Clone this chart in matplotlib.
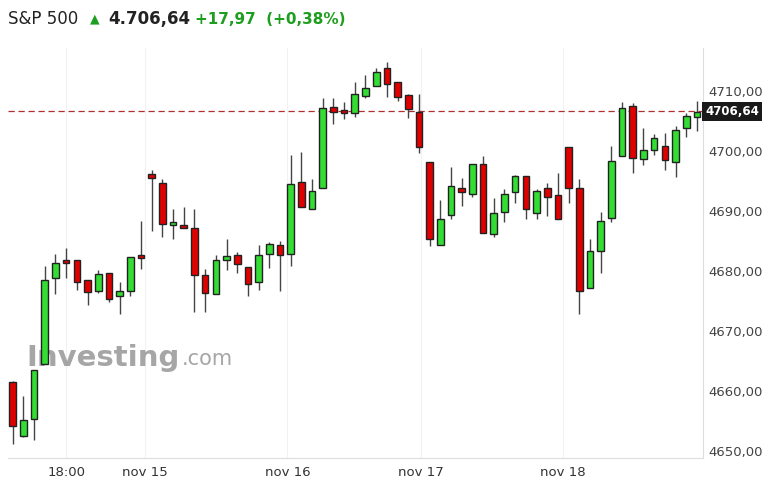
import matplotlib.pyplot as plt
import numpy as np

# OHLC candles
opens = [4661.4, 4652.5, 4655.3, 4664.5, 4678.8, 4681.8, 4681.8, 4678.5, 4676.7, 4679.7,
         4675.9, 4676.7, 4682.6, 4696.2, 4694.7, 4687.6, 4687.6, 4687.2, 4679.3, 4676.1,
         4681.9, 4682.6, 4680.7, 4678.2, 4682.9, 4684.3, 4682.9, 4694.9, 4690.3, 4693.8,
         4707.4, 4706.9, 4706.3, 4709.2, 4710.9, 4713.8, 4711.6, 4709.3, 4706.6, 4698.2,
         4684.3, 4689.3, 4693.6, 4692.8, 4697.9, 4686.2, 4689.9, 4693.2, 4695.9, 4689.6,
         4693.8, 4692.6, 4700.7, 4693.8, 4677.2, 4683.4, 4688.8, 4699.1, 4707.6, 4698.7,
         4700.2, 4700.9, 4698.2, 4703.8, 4705.7]
closes = [4654.2, 4655.2, 4663.5, 4678.5, 4681.4, 4681.3, 4678.2, 4676.5, 4679.5, 4675.3,
          4676.6, 4682.4, 4682.1, 4695.5, 4687.9, 4688.1, 4687.1, 4679.3, 4676.3, 4681.8,
          4682.4, 4681.1, 4677.9, 4682.6, 4684.5, 4682.6, 4694.5, 4690.7, 4693.4, 4707.2,
          4706.5, 4706.3, 4709.5, 4710.5, 4713.2, 4711.2, 4709.1, 4707.1, 4700.7, 4685.4,
          4688.6, 4694.1, 4693.2, 4697.9, 4686.3, 4689.7, 4692.8, 4695.8, 4690.4, 4693.4,
          4692.4, 4688.6, 4693.8, 4676.6, 4683.3, 4688.4, 4698.4, 4707.2, 4698.8, 4700.1,
          4702.2, 4698.5, 4703.5, 4705.9, 4706.6]
highs = [4661.7, 4659.2, 4663.5, 4680.8, 4682.9, 4683.8, 4681.8, 4678.5, 4680.1, 4679.7,
         4678.2, 4682.4, 4688.4, 4696.9, 4695.3, 4690.4, 4690.7, 4690.3, 4680.4, 4682.7,
         4685.3, 4683.2, 4680.7, 4684.4, 4684.9, 4685.0, 4699.4, 4699.8, 4695.4, 4708.8,
         4708.9, 4708.2, 4711.5, 4712.7, 4713.9, 4714.8, 4711.6, 4709.6, 4709.6, 4698.2,
         4691.9, 4697.4, 4695.5, 4697.9, 4699.1, 4692.2, 4693.6, 4696.0, 4695.9, 4693.7,
         4694.7, 4696.3, 4700.7, 4695.4, 4685.3, 4689.8, 4700.8, 4708.2, 4708.0, 4703.9,
         4702.8, 4703.1, 4704.2, 4706.4, 4708.4]
lows = [4651.2, 4652.3, 4651.8, 4664.5, 4676.2, 4678.9, 4676.9, 4674.3, 4676.4, 4674.9,
        4672.8, 4675.9, 4680.3, 4686.6, 4685.7, 4685.3, 4687.1, 4673.1, 4673.1, 4676.1,
        4680.1, 4679.7, 4675.9, 4676.9, 4680.5, 4676.6, 4680.9, 4690.7, 4690.3, 4693.8,
        4704.5, 4705.3, 4705.7, 4708.9, 4710.9, 4709.1, 4708.3, 4705.6, 4699.7, 4684.1,
        4684.3, 4688.6, 4690.9, 4692.3, 4686.3, 4685.6, 4688.2, 4691.4, 4688.6, 4688.7,
        4689.1, 4688.6, 4691.4, 4672.8, 4677.2, 4679.7, 4688.2, 4699.1, 4696.4, 4697.6,
        4699.3, 4696.8, 4695.7, 4702.4, 4703.3]

last_price = 4706.64
tick_pos = [5, 12.4, 25.7, 38.2, 51.5]
tick_labels = ['18:00', 'nov 15', 'nov 16', 'nov 17', 'nov 18']
y_ticks = [4650, 4660, 4670, 4680, 4690, 4700, 4710]

fig = plt.figure(figsize=(7.71, 4.98), dpi=100)
ax = fig.add_axes([8/771, 40/498, 695/771, 410/498])

x = np.arange(len(opens))
for i in x:
    o, c, h, l = opens[i], closes[i], highs[i], lows[i]
    col = '#33dd33' if c >= o else '#e00000'
    ax.vlines(i, l, h, color='#444444', lw=1, zorder=2)
    bot = min(o, c)
    hgt = max(abs(c - o), 0.6)
    ax.bar(i, hgt, bottom=bot, width=0.62, color=col, edgecolor='#222222', lw=1, zorder=3)

ax.axhline(last_price, color='#b03030', lw=0.9, ls=(0, (5, 3)), zorder=1)

ax.set_xlim(-0.44, 64.57)
ax.set_ylim(4648.8, 4717.2)
ax.set_xticks(tick_pos)
ax.set_xticklabels(tick_labels, fontsize=9.5, color='#333333')
for p in tick_pos:
    ax.axvline(p, color='#f2f2f2', lw=0.8, zorder=0)
ax.yaxis.tick_right()
ax.set_yticks(y_ticks)
ax.set_yticklabels([f'{v},00' for v in y_ticks], fontsize=9.5, color='#444444')
ax.tick_params(length=0, pad=4)
ax.tick_params(axis='x', pad=6)
for s in ['top', 'left']:
    ax.spines[s].set_visible(False)
ax.spines['right'].set_color('#dddddd')
ax.spines['bottom'].set_color('#dddddd')

ax.text(1.003, last_price, '4706,64', transform=ax.get_yaxis_transform(), va='center', ha='left',
        fontsize=8.5, fontweight='bold', color='white',
        bbox=dict(boxstyle='square,pad=0.25', fc='#1a1a1a', ec='none'), zorder=5)

# watermark
ax.text(0.027, 0.225, 'Investing', transform=ax.transAxes, fontsize=21, fontweight='bold',
        color='#888888', alpha=0.75, zorder=1)
ax.text(0.250, 0.228, '.com', transform=ax.transAxes, fontsize=15, color='#888888', alpha=0.75, zorder=1)

# header
fig.text(8/771, 1 - 19/498, 'S&P 500', fontsize=12, color='#222222', va='center')
fig.text(90/771, 1 - 19/498, '\u25b2', fontsize=9, color='#1e9e1e', va='center')
fig.text(108/771, 1 - 19/498, '4.706,64', fontsize=12, fontweight='bold', color='#222222', va='center')
fig.text(195/771, 1 - 19/498, '+17,97  (+0,38%)', fontsize=11, fontweight='bold', color='#1e9e1e', va='center')

fig.savefig('out.png', dpi=100)
